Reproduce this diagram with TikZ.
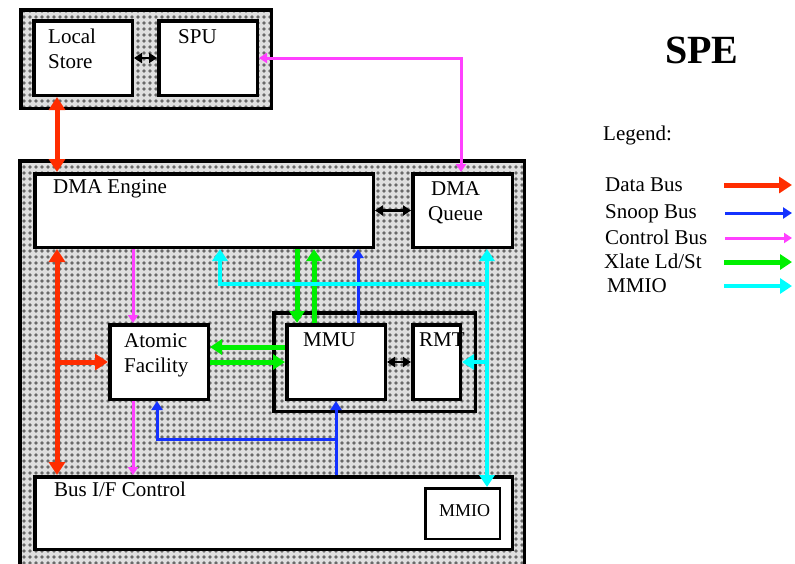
\documentclass[tikz,border=0pt]{standalone}
\usepackage{fontspec}
\setmainfont{Liberation Serif}
\usetikzlibrary{positioning}
\usetikzlibrary{arrows.meta}
\usetikzlibrary{patterns.meta}
\definecolor{datacolor}{RGB}{255,45,0}
\definecolor{snoopcolor}{RGB}{20,50,255}
\definecolor{ctrlcolor}{RGB}{255,64,255}
\definecolor{xlatecolor}{RGB}{0,240,0}
\definecolor{mmiocolor}{RGB}{0,255,255}
\definecolor{dotcolor}{RGB}{105,105,105}

\begin{document}
\begin{tikzpicture}[
    x=1pt, y=-1pt,
    unit/.style={rectangle, draw, fill=white, line width=3.5pt, anchor=north west, inner sep=0pt},
    group/.style={rectangle, draw, line width=3.5pt, anchor=north west, inner sep=0pt, preaction={fill=gray!25}, pattern={Dots[distance=6pt,radius=1.8pt]}, pattern color=dotcolor},
    txt/.style={anchor=north west, inner sep=0pt, font=\fontsize{21}{25}\selectfont, align=left},
    data/.style={draw=datacolor, line width=5pt, >={Triangle[length=13pt,width=16pt]}},
    snoop/.style={draw=snoopcolor, line width=3pt, >={Triangle[length=9pt,width=11pt]}},
    ctrl/.style={draw=ctrlcolor, line width=3pt, >={Triangle[length=8pt,width=10pt]}},
    xlate/.style={draw=xlatecolor, line width=5pt, >={Triangle[length=12pt,width=15pt]}},
    mmio/.style={draw=mmiocolor, line width=4pt, >={Triangle[length=12pt,width=15pt]}},
    link/.style={draw=black, line width=2.6pt, >={Triangle[length=8pt,width=10pt]}}
]
\useasboundingbox (0,0) rectangle (795,563);

% SPU group
\node[group, minimum width=250.5pt, minimum height=98.5pt] (spuGrp) at (19,8) {};
\node[unit, minimum width=98.5pt, minimum height=74.5pt] (ls) at (32,19) {};
\node[unit, minimum width=98.5pt, minimum height=74.5pt] (spu) at (157,19) {};
\node[txt] (lsText) at (48,29) {Local\\Store};
\node[txt] (spuText) at (178,29) {SPU};

% MFC group
\node[group, minimum width=504.5pt, minimum height=412.5pt] (mfcGrp) at (18,159) {};
\node[unit, minimum width=338.5pt, minimum height=73.5pt] (dma) at (33,172) {};
\node[unit, minimum width=99.5pt, minimum height=73.5pt] (dmaq) at (411,172) {};
\node[unit, minimum width=98.5pt, minimum height=74.5pt] (atom) at (108,323) {};
\node[group, minimum width=201.5pt, minimum height=98.5pt] (mmuGrp) at (272,311) {};
\node[unit, minimum width=98.5pt, minimum height=74.5pt] (mmu) at (285,323) {};
\node[unit, minimum width=47.5pt, minimum height=74.5pt] (rmt) at (411,323) {};
\node[unit, minimum width=477.5pt, minimum height=72.5pt] (bus) at (33,475) {};
\node[unit, line width=2.5pt, minimum width=74.5pt, minimum height=50.5pt] (mmio) at (424,487) {};

\node[txt] (dmaText) at (53,179) {DMA Engine};
\node[txt, align=center] (dmaqText) at (428,181) {DMA\\Queue};
\node[txt] (atomText) at (124,333) {Atomic\\Facility};
\node[txt] (mmuText) at (303,333) {MMU};
\node[txt] (rmtText) at (419,333) {RMT};
\node[txt] (busText) at (54,482) {Bus I/F Control};
\node[txt, font=\fontsize{18}{22}\selectfont] (mmioText) at (439,504) {MMIO};

% Columns and rows of the buses
\coordinate (colData) at (57,0);
\coordinate (colCtrl) at (133,0);
\coordinate (colSnoopA) at (157,0);
\coordinate (colMmioL) at (220,0);
\coordinate (colXlateD) at (297,0);
\coordinate (colXlateU) at (314,0);
\coordinate (colSnoop) at (336,0);
\coordinate (colSnoopU) at (358,0);
\coordinate (colQueue) at (461,0);
\coordinate (colMmioR) at (487,0);
\coordinate (rowMmio) at (0,284);
\coordinate (rowXlateA) at (0,347);
\coordinate (rowXlateB) at (0,362);
\coordinate (rowSnoop) at (0,439);

% Data bus
\draw[data,<->] (ls.south -| colData) -- (dma.north -| colData);
\draw[data,<->] (dma.south -| colData) -- (bus.north -| colData);
\draw[data,->] (colData |- atom.west) -- (atom.west);

% Control bus
\draw[ctrl,<->] (spu.east) -| (dmaq.north -| colQueue);
\draw[ctrl,->] (dma.south -| colCtrl) -- (atom.north -| colCtrl);
\draw[ctrl,->] (atom.south -| colCtrl) -- (bus.north -| colCtrl);

% Xlate Ld/St
\draw[xlate,->] (dma.south -| colXlateD) -- (mmu.north -| colXlateD);
\draw[xlate,->] (mmu.north -| colXlateU) -- (dma.south -| colXlateU);
\draw[xlate,->] (mmu.west |- rowXlateA) -- (atom.east |- rowXlateA);
\draw[xlate,->] (atom.east |- rowXlateB) -- (mmu.west |- rowXlateB);

% Snoop bus
\draw[snoop,->] (mmu.north -| colSnoopU) -- (dma.south -| colSnoopU);
\draw[snoop,->] (bus.north -| colSnoop) -- (mmu.south -| colSnoop);
\draw[snoop,->] (colSnoop |- rowSnoop) -| (atom.south -| colSnoopA);

% MMIO
\draw[mmio,<->] (dmaq.south -| colMmioR) -- (mmio.north -| colMmioR);
\draw[mmio,->] (colMmioR |- rowMmio) -| (dma.south -| colMmioL);
\draw[mmio,->] (colMmioR |- rmt.east) -- (rmt.east);

% local links
\draw[link,<->] (ls) -- (spu);
\draw[link,<->] (dma) -- (dmaq);
\draw[link,<->] (mmu) -- (rmt);

% Title and legend
\node[anchor=north west, inner sep=0pt, font=\bfseries\fontsize{40}{44}\selectfont] (title) at (665,37) {SPE};
\node[txt] (lgHead) at (603,126) {Legend:};
\node[txt] (lgData) at (605,178) {Data Bus};
\node[txt] (lgSnoop) at (605,204) {Snoop Bus};
\node[txt] (lgCtrl) at (605,230) {Control Bus};
\node[txt] (lgXlate) at (604,254) {Xlate Ld/St};
\node[txt] (lgMmio) at (607,278) {MMIO};
\draw[data,->] (724,185) -- (792,185);
\draw[snoop,->] (725,213) -- (792,213);
\draw[ctrl,->] (725,238) -- (792,238);
\draw[xlate,->] (724,262) -- (792,262);
\draw[mmio,->] (724,286) -- (792,286);
\end{tikzpicture}
\end{document}
